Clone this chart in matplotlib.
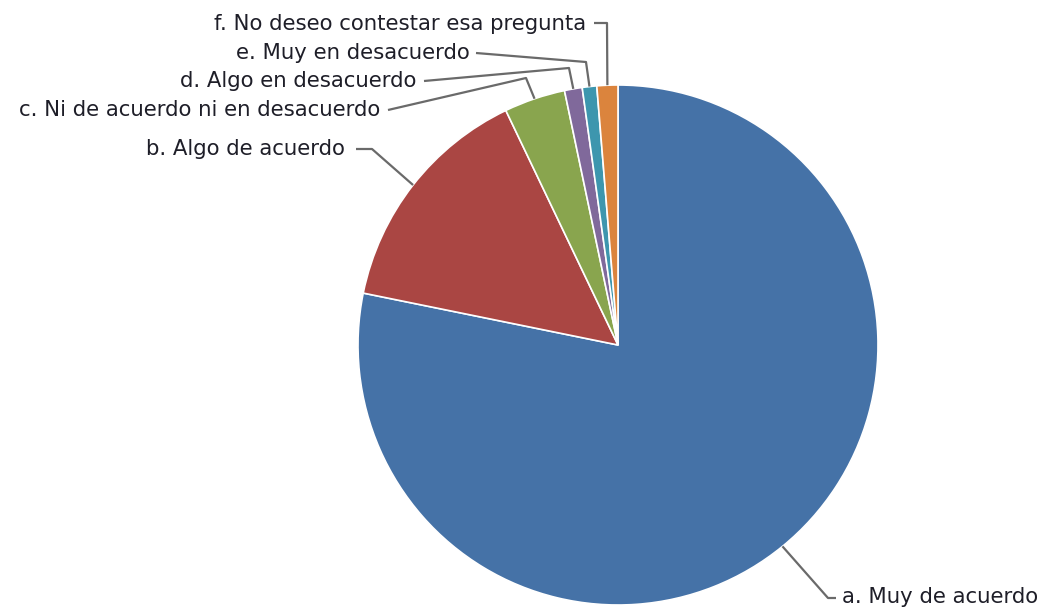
import matplotlib
matplotlib.use("Agg")
import matplotlib.pyplot as plt
import numpy as np

categories = ["a. Muy de acuerdo", "b. Algo de acuerdo", "c. Ni de acuerdo ni en desacuerdo",
              "d. Algo en desacuerdo", "e. Muy en desacuerdo", "f. No deseo contestar esa pregunta"]
values = [78.2, 14.7, 3.8, 1.1, 0.9, 1.3]
colors = ["#4572A7", "#AA4643", "#89A54E", "#80699B", "#3D96AE", "#DB843D"]

# layout (pixel coordinates)
CX, CY, R = 618, 345, 260
label_pos = [(842, 597), (345, 149), (380, 110), (416, 81), (470, 53), (586, 24)]
bend_pts = [[(828, 598)], [(372, 149)], [(526, 78)], [(569, 68)], [(586, 62)], [(607, 23)]]
text_end = [(836, 598), (356, 149), (388, 110), (424, 81), (476, 53), (594, 23)]

fig = plt.figure(figsize=(10.43, 6.07), dpi=100)
ax = fig.add_axes([0, 0, 1, 1])
wedges, _ = ax.pie(values, colors=colors, startangle=-90, counterclock=True,
                   radius=R, center=(CX, CY),
                   wedgeprops=dict(edgecolor="white", linewidth=1.2))
ax.set_xlim(0, 1043)
ax.set_ylim(607, 0)
ax.set_aspect("equal")
ax.axis("off")

for i, w in enumerate(wedges):
    mid = np.deg2rad((w.theta1 + w.theta2) / 2)
    ex = CX + R * np.cos(mid)
    ey = CY + R * np.sin(mid)
    pts = [(ex, ey)] + bend_pts[i] + [text_end[i]]
    xs, ys = zip(*pts)
    ax.plot(xs, ys, color="#6a6a6a", lw=1.6, solid_capstyle="butt")
    ha = "left" if i == 0 else "right"
    ax.text(label_pos[i][0], label_pos[i][1], categories[i], ha=ha, va="center",
            fontsize=15.3, color="#1e1e28", family="DejaVu Sans")

fig.savefig("out.png", dpi=100)
